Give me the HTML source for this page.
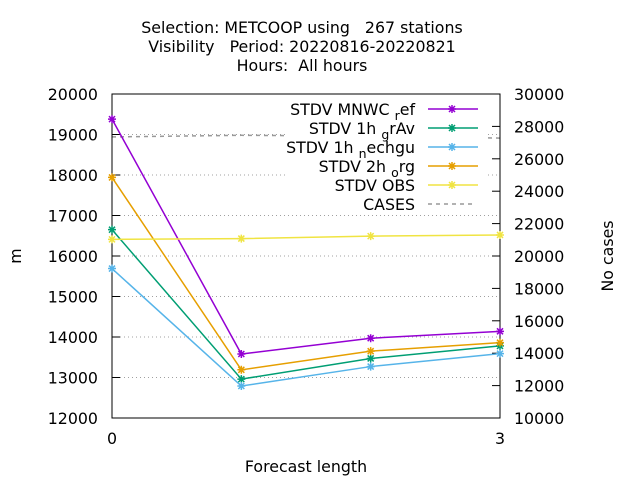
<!DOCTYPE html>
<html><head><meta charset="utf-8"><style>
body{margin:0;background:#fff;}
svg{display:block;font-family:"DejaVu Sans","Liberation Sans",sans-serif;}
</style></head><body>
<svg id="chart" width="640" height="480" xmlns="http://www.w3.org/2000/svg">
<g font-size="15.8" text-anchor="middle" fill="#000">
<text x="302" y="33" xml:space="preserve">Selection: METCOOP using   267 stations</text>
<text x="302" y="52" xml:space="preserve">Visibility   Period: 20220816-20220821</text>
<text x="302" y="71" xml:space="preserve">Hours:  All hours</text>
</g>
<g id="grid"></g>
<g id="cases-layer"></g>
<rect x="286" y="96" width="201" height="114" fill="#fff"/>
<rect x="112" y="94" width="388" height="324" fill="none" stroke="#000" stroke-width="1"/>
<g id="axes" font-size="15.8" fill="#000"></g>
<g id="series"></g>
<g id="legend" font-size="15.8"></g>
<text x="306" y="472" font-size="15.8" text-anchor="middle">Forecast length</text>
<text transform="translate(21,256) rotate(-90)" font-size="15.8" text-anchor="middle">m</text>
<text transform="translate(613,256) rotate(-90)" font-size="15.8" text-anchor="middle">No cases</text>
</svg>
<script>
const xs = [0, 1, 2, 3];
const xTicks = [0, 3];
const yTicks = [12000, 13000, 14000, 15000, 16000, 17000, 18000, 19000, 20000];
const y2Ticks = [10000, 12000, 14000, 16000, 18000, 20000, 22000, 24000, 26000, 28000, 30000];
const mnwcRef = [19380, 13580, 13970, 14140];
const grAv = [16650, 12960, 13470, 13780];
const nechgu = [15690, 12790, 13270, 13590];
const org2h = [17940, 13190, 13650, 13860];
const obs = [16410, 16430, 16490, 16520];
const cases = [27350, 27450, 27400, 27280];

const NS = "http://www.w3.org/2000/svg";
const X = v => 112 + v / 3 * 388;
const Y = v => 418 - (v - 12000) / 8000 * 324;
const Y2 = v => 418 - (v - 10000) / 20000 * 324;
function mk(tag, attrs, parent) { const e = document.createElementNS(NS, tag); for (const k in attrs) e.setAttribute(k, attrs[k]); parent.appendChild(e); return e; }

const grid = document.getElementById('grid');
const axes = document.getElementById('axes');
yTicks.forEach(t => {
  const y = Y(t);
  if (t > 12000 && t < 20000) {
    const g = mk('line', {x1: 112, x2: 500, y1: y, y2: y, stroke: '#a0a0a0', 'stroke-width': 1, 'stroke-dasharray': '1,3'}, grid);
    
    
  }
  mk('line', {x1: 112, x2: 120, y1: y, y2: y, stroke: '#000'}, axes);
  const tx = mk('text', {x: 98, y: y + 6, 'text-anchor': 'end'}, axes);
  tx.textContent = t;
  
  
});
y2Ticks.forEach(t => {
  const y = Y2(t);
  mk('line', {x1: 492, x2: 500, y1: y, y2: y, stroke: '#000'}, axes);
  const tx = mk('text', {x: 514, y: y + 6, 'text-anchor': 'start'}, axes);
  tx.textContent = t;
  
  
});
xTicks.forEach(t => {
  const x = X(t);
  mk('line', {x1: x, x2: x, y1: 418, y2: 410, stroke: '#000'}, axes);
  mk('line', {x1: x, x2: x, y1: 94, y2: 102, stroke: '#000'}, axes);
  const tx = mk('text', {x: x, y: 444, 'text-anchor': 'middle'}, axes);
  tx.textContent = t;
  
  
});

function marker(parent, x, y, c) {
  const d = `M${x-4},${y}H${x+4}M${x},${y-4}V${y+4}M${x-3},${y-3}L${x+3},${y+3}M${x-3},${y+3}L${x+3},${y-3}`;
  mk('path', {d: d, stroke: c, 'stroke-width': 1.5, fill: 'none'}, parent);
}
const cg = mk('g', {}, document.getElementById('cases-layer'));


mk('polyline', {points: cases.map((v, j) => X(xs[j]) + ',' + Y2(v)).join(' '), fill: 'none', stroke: '#999', 'stroke-width': 1.5, 'stroke-dasharray': '4,4'}, cg);

const series = document.getElementById('series');
const defs = [
  {name: 'mnwc-ref', data: mnwcRef, c: '#9400d3', lbl: ['STDV MNWC ', 'r', 'ef']},
  {name: '1h-grav', data: grAv, c: '#009e73', lbl: ['STDV 1h ', 'g', 'rAv']},
  {name: '1h-nechgu', data: nechgu, c: '#56b4e9', lbl: ['STDV 1h ', 'n', 'echgu']},
  {name: '2h-org', data: org2h, c: '#e69f00', lbl: ['STDV 2h ', 'o', 'rg']},
  {name: 'obs', data: obs, c: '#f0e442', lbl: ['STDV OBS', '', '']},
];
const legend = document.getElementById('legend');
const rows = [109, 128, 147, 166, 185, 204];
defs.forEach((s, i) => {
  const g = mk('g', {}, series);
  
  
  mk('polyline', {points: s.data.map((v, j) => X(xs[j]) + ',' + Y(v)).join(' '), fill: 'none', stroke: s.c, 'stroke-width': 1.5}, g);
  s.data.forEach((v, j) => marker(g, X(xs[j]), Y(v), s.c));
  const ly = rows[i];
  const le = mk('g', {}, legend);
  
  
  const t = mk('text', {x: 415, y: ly + 6, 'text-anchor': 'end', 'xml:space': 'preserve'}, le);
  t.appendChild(document.createTextNode(s.lbl[0]));
  if (s.lbl[1]) {
    const sub = mk('tspan', {dy: 5, 'font-size': 12.5}, t); sub.textContent = s.lbl[1];
    const rest = mk('tspan', {dy: -5}, t); rest.textContent = s.lbl[2];
  }
  mk('line', {x1: 428, x2: 478, y1: ly, y2: ly, stroke: s.c, 'stroke-width': 1.5}, le);
  marker(le, 452, ly, s.c);
});
const cl = mk('g', {}, legend);


const ct = mk('text', {x: 415, y: rows[5] + 6, 'text-anchor': 'end'}, cl); ct.textContent = 'CASES';
mk('line', {x1: 428, x2: 472, y1: rows[5], y2: rows[5], stroke: '#999', 'stroke-width': 1.5, 'stroke-dasharray': '4,4'}, cl);
</script>
</body></html>
